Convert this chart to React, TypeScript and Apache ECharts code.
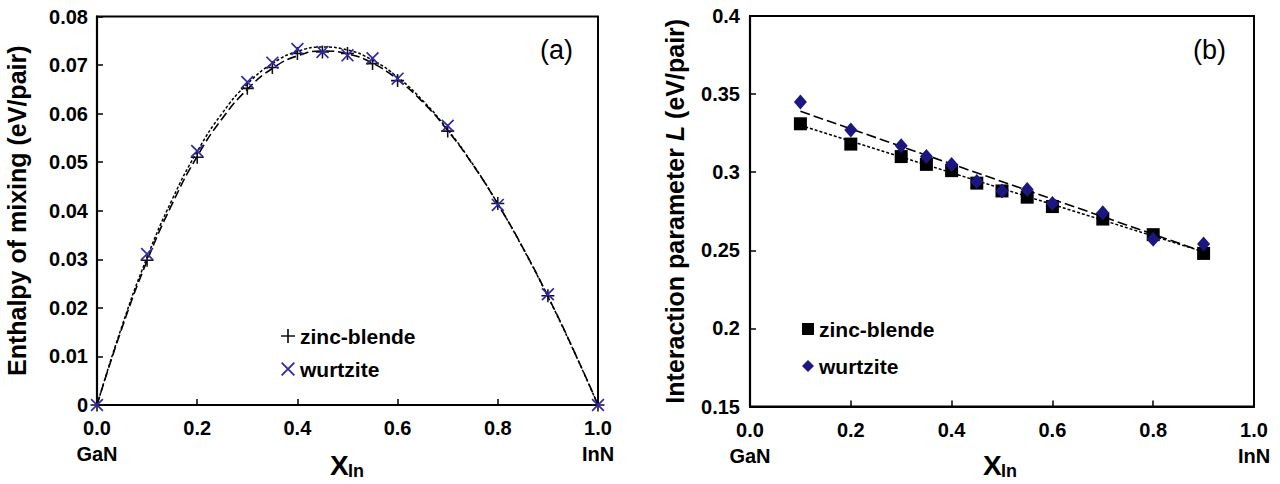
import React, { useEffect, useRef } from "react";
import * as echarts from "echarts";

const FONT = "Liberation Sans, Arial, Helvetica, sans-serif";

// Panel (a): enthalpy of mixing (eV/pair)
const X_A = [0, 0.1, 0.2, 0.3, 0.35, 0.4, 0.45, 0.5, 0.55, 0.6, 0.7, 0.8, 0.9, 1.0];
const ZB_A = [0, 0.0298, 0.0510, 0.0652, 0.0695, 0.0724, 0.0727, 0.0724, 0.0703, 0.0668, 0.0564, 0.0415, 0.0225, 0];
const WZ_A = [0, 0.0311, 0.0523, 0.0665, 0.0705, 0.0733, 0.0727, 0.0720, 0.0714, 0.0672, 0.0575, 0.0412, 0.0228, 0];

// Fitted curves
const CURVE_X = [0, 0.05, 0.1, 0.15, 0.2, 0.25, 0.3, 0.35, 0.4, 0.45, 0.5, 0.55, 0.6, 0.65, 0.7, 0.75, 0.8, 0.85, 0.9, 0.95, 1.0];
const ZB_CURVE = [0, 0.0159, 0.0297, 0.0414, 0.0512, 0.0590, 0.0650, 0.0693, 0.0719, 0.0729, 0.0723, 0.0704, 0.0670, 0.0624, 0.0565, 0.0495, 0.0414, 0.0324, 0.0224, 0.0116, 0];
const WZ_CURVE = [0, 0.0163, 0.0304, 0.0423, 0.0522, 0.0601, 0.0661, 0.0703, 0.0728, 0.0737, 0.0731, 0.0710, 0.0675, 0.0627, 0.0567, 0.0496, 0.0414, 0.0323, 0.0223, 0.0115, 0];

// Panel (b): interaction parameter L (eV/pair)
const X_B = [0.1, 0.2, 0.3, 0.35, 0.4, 0.45, 0.5, 0.55, 0.6, 0.7, 0.8, 0.9];
const ZB_B = [0.331, 0.318, 0.310, 0.305, 0.301, 0.293, 0.288, 0.284, 0.278, 0.270, 0.260, 0.248];
const WZ_B = [0.345, 0.327, 0.317, 0.310, 0.305, 0.294, 0.288, 0.289, 0.280, 0.274, 0.257, 0.254];

// Linear fits in panel (b)
const FIT_X = [0.1, 0.9];
const ZB_FIT = [0.330, 0.249];
const WZ_FIT = [0.339, 0.249];

const X_TICKS_MIN = 0;
const X_TICKS_MAX = 1;
const X_INTERVAL = 0.2;

const LEGEND_NAMES: Record<string, string> = {
  zbA: "zinc-blende",
  wzA: "wurtzite",
  zbB: "zinc-blende",
  wzB: "wurtzite",
};

const PLUS =
  "path://M-0.12,-1 L0.12,-1 L0.12,-0.12 L1,-0.12 L1,0.12 L0.12,0.12 L0.12,1 L-0.12,1 L-0.12,0.12 L-1,0.12 L-1,-0.12 L-0.12,-0.12 Z";
const CROSS =
  "path://M-1,-0.82 L-0.82,-1 L1,0.82 L0.82,1 Z M-0.82,1 L-1,0.82 L0.82,-1 L1,-0.82 Z";

const zip = (xs: number[], ys: number[]) => xs.map((x, i) => [x, ys[i]]);

export default function App() {
  const ref = useRef<HTMLDivElement>(null);

  useEffect(() => {
    if (!ref.current) return;
    const chart = echarts.init(ref.current, undefined, { renderer: "svg" });

    const tickLabel = {
      fontFamily: FONT,
      fontWeight: "bold" as const,
      fontSize: 20,
      color: "#000",
    };

    const xAxisCommon = (gridIndex: number) => ({
      type: "value" as const,
      gridIndex,
      min: X_TICKS_MIN,
      max: X_TICKS_MAX,
      interval: X_INTERVAL,
      axisLine: { show: true, lineStyle: { color: "#000", width: 2.2 } },
      axisTick: { show: true, inside: true, length: 6, lineStyle: { color: "#000", width: 1.5 } },
      splitLine: { show: false },
      axisLabel: {
        ...tickLabel,
        margin: 10,
        lineHeight: 26,
        formatter: (v: number) => {
          const s = v.toFixed(1);
          if (Math.abs(v) < 1e-9) return s + "\nGaN";
          if (Math.abs(v - 1) < 1e-9) return s + "\nInN";
          return s;
        },
      },
    });

    const option: any = {
      animation: false,
      backgroundColor: "#fff",
      grid: [
        { left: 97, right: 682, top: 16.5, bottom: 79, show: true, borderColor: "#000", borderWidth: 2, backgroundColor: "transparent" },
        { left: 750, right: 26, top: 16, bottom: 77.5, show: true, borderColor: "#000", borderWidth: 2, backgroundColor: "transparent" },
      ],
      xAxis: [xAxisCommon(0), xAxisCommon(1)],
      yAxis: [
        {
          type: "value",
          gridIndex: 0,
          min: 0,
          max: 0.08,
          interval: 0.01,
          axisLine: { show: true, lineStyle: { color: "#000", width: 2.2 } },
          axisTick: { show: true, inside: true, length: 6, lineStyle: { color: "#000", width: 1.5 } },
          splitLine: { show: false },
          axisLabel: {
            ...tickLabel,
            margin: 9,
            formatter: (v: number) => (Math.abs(v) < 1e-9 ? "0" : v.toFixed(2)),
          },
          name: "Enthalpy of mixing (eV/pair)",
          nameLocation: "middle",
          nameRotate: 90,
          nameGap: 68,
          nameTextStyle: { fontFamily: FONT, fontWeight: "bold", fontSize: 25, color: "#000" },
        },
        {
          type: "value",
          gridIndex: 1,
          min: 0.15,
          max: 0.4,
          interval: 0.05,
          axisLine: { show: true, lineStyle: { color: "#000", width: 2.2 } },
          axisTick: { show: true, inside: true, length: 6, lineStyle: { color: "#000", width: 1.5 } },
          splitLine: { show: false },
          axisLabel: {
            ...tickLabel,
            margin: 10,
            formatter: (v: number) => String(+v.toFixed(2)),
          },
          name: "Interaction parameter {i|L} (eV/pair)",
          nameLocation: "middle",
          nameRotate: 90,
          nameGap: 63,
          nameTextStyle: {
            fontFamily: FONT,
            fontWeight: "bold",
            fontSize: 25,
            color: "#000",
            rich: {
              i: { fontFamily: FONT, fontWeight: "bold", fontStyle: "italic", fontSize: 25, color: "#000" },
            },
          },
        },
      ],
      legend: [
        {
          data: ["zbA", "wzA"],
          orient: "vertical",
          left: 276,
          top: 320,
          itemWidth: 14,
          itemHeight: 14,
          itemGap: 11,
          selectedMode: false,
          formatter: (n: string) => LEGEND_NAMES[n],
          textStyle: { fontFamily: FONT, fontWeight: "bold", fontSize: 21, color: "#000", lineHeight: 22 },
        },
        {
          data: ["zbB", "wzB"],
          orient: "vertical",
          left: 797,
          top: 313,
          itemWidth: 12,
          itemHeight: 12,
          itemGap: 15,
          selectedMode: false,
          formatter: (n: string) => LEGEND_NAMES[n],
          textStyle: { fontFamily: FONT, fontWeight: "bold", fontSize: 21, color: "#000", lineHeight: 22 },
        },
      ],
      series: [
        {
          name: "zbCurveA",
          type: "line",
          xAxisIndex: 0,
          yAxisIndex: 0,
          data: zip(CURVE_X, ZB_CURVE),
          smooth: true,
          showSymbol: false,
          lineStyle: { color: "#000", width: 1.6, type: [9, 4] },
          z: 1,
        },
        {
          name: "wzCurveA",
          type: "line",
          xAxisIndex: 0,
          yAxisIndex: 0,
          data: zip(CURVE_X, WZ_CURVE),
          smooth: true,
          showSymbol: false,
          lineStyle: { color: "#000", width: 1.5, type: [3, 2] },
          z: 1,
        },
        {
          name: "zbA",
          type: "scatter",
          xAxisIndex: 0,
          yAxisIndex: 0,
          data: zip(X_A, ZB_A),
          symbol: PLUS,
          symbolSize: 13,
          itemStyle: { color: "#111", opacity: 1 },
          z: 3,
        },
        {
          name: "wzA",
          type: "scatter",
          xAxisIndex: 0,
          yAxisIndex: 0,
          data: zip(X_A, WZ_A),
          symbol: CROSS,
          symbolSize: 13,
          itemStyle: { color: "#2e26a8", opacity: 1 },
          z: 4,
        },
        {
          name: "wzFitB",
          type: "line",
          xAxisIndex: 1,
          yAxisIndex: 1,
          data: zip(FIT_X, WZ_FIT),
          showSymbol: false,
          lineStyle: { color: "#000", width: 1.6, type: [10, 4] },
          z: 1,
        },
        {
          name: "zbFitB",
          type: "line",
          xAxisIndex: 1,
          yAxisIndex: 1,
          data: zip(FIT_X, ZB_FIT),
          showSymbol: false,
          lineStyle: { color: "#000", width: 1.5, type: [3, 2] },
          z: 1,
        },
        {
          name: "zbB",
          type: "scatter",
          xAxisIndex: 1,
          yAxisIndex: 1,
          data: zip(X_B, ZB_B),
          symbol: "rect",
          symbolSize: 13,
          itemStyle: { color: "#000", opacity: 1 },
          z: 3,
        },
        {
          name: "wzB",
          type: "scatter",
          xAxisIndex: 1,
          yAxisIndex: 1,
          data: zip(X_B, WZ_B),
          symbol: "diamond",
          symbolSize: [13, 15],
          itemStyle: { color: "#1b1680", opacity: 1 },
          z: 4,
        },
      ],
      graphic: [
        { type: "text", left: 540, top: 36, style: { text: "(a)", fontFamily: FONT, fontSize: 27, fill: "#000" } },
        { type: "text", left: 1193, top: 36, style: { text: "(b)", fontFamily: FONT, fontSize: 27, fill: "#000" } },
        { type: "text", left: 330, top: 451, style: { text: "X", fontFamily: FONT, fontWeight: "bold", fontSize: 28, fill: "#000" } },
        { type: "text", left: 348, top: 462, style: { text: "In", fontFamily: FONT, fontWeight: "bold", fontSize: 18, fill: "#000" } },
        { type: "text", left: 983, top: 451, style: { text: "X", fontFamily: FONT, fontWeight: "bold", fontSize: 28, fill: "#000" } },
        { type: "text", left: 1001, top: 462, style: { text: "In", fontFamily: FONT, fontWeight: "bold", fontSize: 18, fill: "#000" } },
      ],
    };

    chart.setOption(option);
    return () => chart.dispose();
  }, []);

  return (
    <div
      ref={ref}
      style={{ position: "fixed", left: 0, top: 0, width: 1280, height: 484, background: "#fff" }}
    />
  );
}
